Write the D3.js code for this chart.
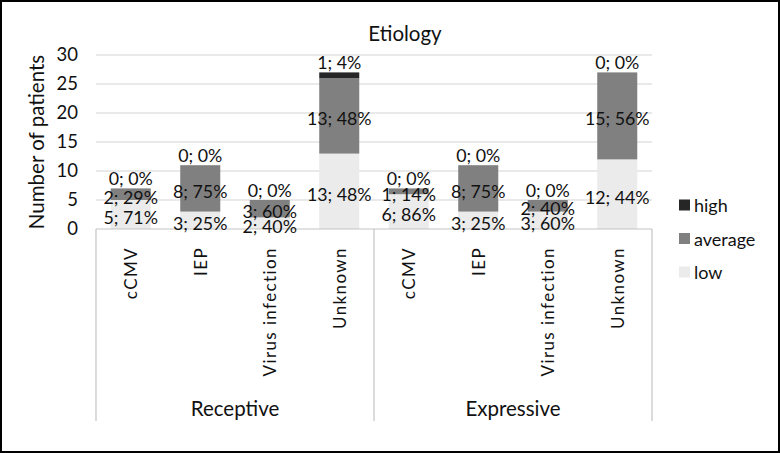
<!DOCTYPE html>
<html><head><meta charset="utf-8">
<script src="https://cdn.jsdelivr.net/npm/d3@7/dist/d3.min.js"></script>
<style>body{margin:0;background:#fff}svg{display:block}text{font-family:Lato,"Open Sans",sans-serif;fill:#111}</style>
</head><body><svg id="c" width="780" height="453"></svg>
<script>
const groups = ["Receptive","Expressive"];
const categories = ["cCMV","IEP","Virus infection","Unknown"];
const lowVals = [5,3,2,13, 6,3,3,12];
const avgVals = [2,8,3,13, 1,8,2,15];
const highVals = [0,0,0,1, 0,0,0,0];
const lowPct = [71,25,40,48, 86,25,60,44];
const avgPct = [29,75,60,48, 14,75,40,56];
const highPct = [0,0,0,4, 0,0,0,0];
const yTicks = [0,5,10,15,20,25,30];
const seriesNames = ["high","average","low"];
const colors = {low:"#ebebeb", average:"#808080", high:"#262626"};

(function(){
const svg = d3.select("#c");
svg.append("rect").attr("x",1).attr("y",1).attr("width",778).attr("height",451)
  .attr("fill","#fff").attr("stroke","#000").attr("stroke-width",2);

const pL=96, pR=652, pT=55, pB=229;
const keys = [];
groups.forEach(g=>categories.forEach(c=>keys.push(g+"|"+c)));
const x = d3.scaleBand().domain(keys).range([pL,pR]).paddingInner(0.424).paddingOuter(0.212);
const y = d3.scaleLinear().domain([0,30]).range([pB,pT]);

svg.append("g").selectAll("line").data(yTicks.filter(t=>t>0)).join("line")
  .attr("x1",pL).attr("x2",pR).attr("y1",d=>y(d)).attr("y2",d=>y(d))
  .attr("stroke","#d4d4d4").attr("stroke-width",1.2);

const yAxis = d3.axisLeft(y).tickValues(yTicks).tickSize(0).tickPadding(0);
const ga = svg.append("g").attr("transform",`translate(${pL-18},0)`).call(yAxis);
ga.select(".domain").remove();
ga.selectAll("text").attr("font-size",18.5).attr("fill","#111").style("font-family","Lato");

const rows = keys.map((k,i)=>({key:k, low:lowVals[i], average:avgVals[i], high:highVals[i], i}));
const stack = d3.stack().keys(["low","average","high"])(rows);
const pct = {low:lowPct, average:avgPct, high:highPct};

stack.forEach(s=>{
  svg.append("g").selectAll("rect").data(s).join("rect")
    .attr("x",d=>x(d.data.key)).attr("width",x.bandwidth())
    .attr("y",d=>y(d[1])).attr("height",d=>y(d[0])-y(d[1]))
    .attr("fill",colors[s.key]);
});

svg.append("line").attr("x1",pL).attr("x2",pR).attr("y1",pB).attr("y2",pB)
  .attr("stroke","#c4c4c4").attr("stroke-width",1.2);
const groupX = [pL, (pL+pR)/2, pR];
svg.append("g").selectAll("line").data(groupX).join("line")
  .attr("x1",d=>d).attr("x2",d=>d).attr("y1",pB).attr("y2",421)
  .attr("stroke","#c4c4c4").attr("stroke-width",1.2);

const lab = svg.append("g").attr("font-size",17.8).attr("text-anchor","middle");
stack.forEach(s=>{
  s.forEach(d=>{
    const i = d.data.i;
    const v = d.data[s.key];
    let ty, base;
    if (s.key==="high" || v===0) {
      ty = y(d[1]) - 3; base = "auto";
    } else {
      ty = (y(d[0])+y(d[1]))/2 + 2.5; base = "central";
    }
    lab.append("text").attr("x",x(d.data.key)+x.bandwidth()/2).attr("y",ty)
      .attr("dominant-baseline",base).text(`${v}; ${pct[s.key][i]}%`);
  });
});

svg.append("g").selectAll("text").data(rows).join("text")
  .attr("transform",d=>`translate(${x(d.key)+x.bandwidth()/2},247) rotate(-90)`)
  .attr("text-anchor","end").attr("dominant-baseline","central")
  .attr("font-size",17).attr("letter-spacing",1.4)
  .text(d=>d.key.split("|")[1]);

svg.append("g").selectAll("text").data(groups).join("text")
  .attr("x",(d,i)=>(groupX[i]+groupX[i+1])/2).attr("y",408)
  .attr("text-anchor","middle").attr("dominant-baseline","central")
  .attr("font-size",20.5).text(d=>d);

svg.append("text").attr("x",405).attr("y",33).attr("text-anchor","middle")
  .attr("dominant-baseline","central").attr("font-size",20.5).text("Etiology");

svg.append("text").attr("transform","translate(36,142) rotate(-90)")
  .attr("text-anchor","middle").attr("dominant-baseline","central")
  .attr("font-size",20.5).text("Number of patients");

const lg = svg.append("g").selectAll("g").data(seriesNames).join("g")
  .attr("transform",(d,i)=>`translate(679,${205+i*33.5})`);
lg.append("rect").attr("x",0).attr("y",-5.5).attr("width",11).attr("height",11).attr("fill",d=>colors[d]);
lg.append("text").attr("x",15).attr("y",0).attr("dominant-baseline","central")
  .attr("font-size",18).text(d=>d);
})();
</script></body></html>
